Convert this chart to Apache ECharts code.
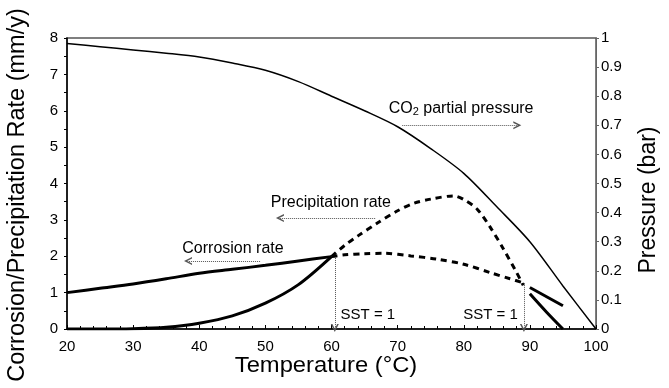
<!DOCTYPE html>
<html><head><meta charset="utf-8">
<script src="https://cdn.jsdelivr.net/npm/echarts@6/dist/echarts.min.js"></script>
<style>html,body{margin:0;padding:0;background:#fff}#c{width:669px;height:388px}</style>
</head><body><div id="c"></div>
<script>
// Temperature (°C) / rate (mm/y) data
const corrSolidT = [20, 25, 30, 35, 40, 45, 50, 55, 60];
const corrSolidV = [1.0, 1.12, 1.24, 1.38, 1.53, 1.64, 1.75, 1.87, 1.99];
const corrDashT = [60, 62, 65, 68, 72, 76, 80, 84, 87, 89];
const corrDashV = [1.99, 2.04, 2.07, 2.08, 2.01, 1.92, 1.78, 1.55, 1.38, 1.27];
const corrEndT = [90, 95];
const corrEndV = [1.14, 0.64];

const precSolidT = [20, 25, 30, 35, 40, 45, 50, 55, 60];
const precSolidV = [0, 0, 0.01, 0.05, 0.16, 0.36, 0.71, 1.22, 1.99];
const precDashT = [60, 62, 64, 67, 70, 72.5, 75, 78.5, 80, 82, 84, 86, 88, 89];
const precDashV = [1.99, 2.3, 2.56, 2.92, 3.25, 3.46, 3.57, 3.66, 3.56, 3.3, 2.8, 2.2, 1.55, 1.2];
const precEndT = [90, 92.5, 95];
const precEndV = [0.97, 0.47, 0.0];

// CO2 partial pressure (bar)
const co2T = [20, 25, 30, 35, 40, 45, 50, 55, 60, 65, 70, 75, 80, 85, 90, 95, 100];
const co2P = [0.981, 0.970, 0.959, 0.948, 0.935, 0.914, 0.889, 0.85, 0.80, 0.75, 0.695, 0.62, 0.535, 0.42, 0.30, 0.148, 0];

const xTicks = [20, 30, 40, 50, 60, 70, 80, 90, 100];

const zip = (a, b) => a.map((v, i) => [v, b[i]]);
const FONT = '"Liberation Sans", Arial, sans-serif';
const chevron = 'path://M0,10L5,0L10,10L8,10L5,4L2,10Z';

const chart = echarts.init(document.getElementById('c'), null, {renderer: 'canvas'});
const thick = {color: '#000', width: 3};
const dash = {color: '#000', width: 3, type: [6, 5]};

chart.setOption({
  animation: false,
  grid: {left: 67, right: 73, top: 38, bottom: 59, show: true, borderColor: '#555', borderWidth: 1.5, backgroundColor: 'transparent'},
  graphic: [
    {type: 'text', x: 326, y: 366, silent: true, scaleX: 1.08,
      style: {text: 'Temperature (°C)', fontFamily: FONT, fontSize: 22, fill: '#000', align: 'center', verticalAlign: 'middle'}},
    {type: 'text', x: 18, y: 195, rotation: Math.PI / 2, silent: true,
      style: {text: 'Corrosion/Precipitation Rate (mm/y)', fontFamily: FONT, fontSize: 23.5, fill: '#000', align: 'center', verticalAlign: 'middle'}},
    {type: 'text', x: 649, y: 200, rotation: Math.PI / 2, silent: true,
      style: {text: 'Pressure (bar)', fontFamily: FONT, fontSize: 23, fill: '#000', align: 'center', verticalAlign: 'middle'}}
  ],
  xAxis: {
    type: 'value', min: 20, max: 100, interval: 10,
    axisLine: {show: true, lineStyle: {color: '#000', width: 1.5}},
    axisTick: {show: true, inside: true, length: 4, lineStyle: {color: '#000'}},
    minorTick: {show: true, splitNumber: 5, length: 3, lineStyle: {color: '#000'}},
    axisLabel: {fontFamily: FONT, fontSize: 15, color: '#000', margin: 10,
      formatter: v => xTicks.includes(v) ? String(v) : ''},
    splitLine: {show: false}
  },
  yAxis: [{
    type: 'value', min: 0, max: 8, interval: 1, position: 'left',
    axisLine: {show: true, lineStyle: {color: '#000', width: 1.5}},
    axisTick: {show: true, length: 3, lineStyle: {color: '#000'}},
    minorTick: {show: true, splitNumber: 2, length: 3, lineStyle: {color: '#000'}},
    axisLabel: {fontFamily: FONT, fontSize: 15, color: '#000', margin: 9},
    splitLine: {show: false}
  }, {
    type: 'value', min: 0, max: 1, interval: 0.1, position: 'right',
    axisLine: {show: true, lineStyle: {color: '#666', width: 1}},
    axisTick: {show: true, length: 3, lineStyle: {color: '#666'}},
    axisLabel: {fontFamily: FONT, fontSize: 15, color: '#000', margin: 5,
      formatter: v => (Math.round(v * 10) / 10).toString()},
    splitLine: {show: false}
  }],
  series: [
    {type: 'line', data: zip(corrSolidT, corrSolidV), smooth: 0.3, symbol: 'none', lineStyle: thick, itemStyle: {color: '#000'},
      markLine: {
        silent: true, symbol: ['none', chevron], symbolSize: [8, 8],
        itemStyle: {color: '#555'},
        lineStyle: {type: 'dotted', color: '#555', width: 1}, label: {show: false},
        data: [
          [{coord: [49.2, 1.87]}, {coord: [38.3, 1.87]}],
          [{coord: [66.6, 3.05]}, {coord: [52.2, 3.05]}],
          [{coord: [70.7, 5.6]}, {coord: [88.1, 5.6]}],
          [{coord: [60.5, 1.95]}, {coord: [60.5, 0.03]}],
          [{coord: [89.1, 1.26]}, {coord: [89.1, 0.03]}]
        ]
      },
      markPoint: {
        silent: true, symbol: 'rect', symbolSize: 1, itemStyle: {color: 'rgba(0,0,0,0)'},
        label: {show: true, position: 'inside', fontFamily: FONT, fontSize: 16, color: '#000',
          rich: {sub: {fontFamily: FONT, fontSize: 11, color: '#000', padding: [8, 0, 0, 0]}}},
        data: [
          {coord: [45.1, 2.2], label: {formatter: 'Corrosion rate'}},
          {coord: [59.9, 3.47], label: {formatter: 'Precipitation rate'}},
          {coord: [79.6, 6.07], label: {formatter: 'CO{sub|2} partial pressure'}},
          {coord: [65.5, 0.39], label: {formatter: 'SST = 1', fontSize: 15}},
          {coord: [84.05, 0.39], label: {formatter: 'SST = 1', fontSize: 15}}
        ]
      }
    },
    {type: 'line', data: zip(corrDashT, corrDashV), smooth: 0.3, symbol: 'none', lineStyle: dash},
    {type: 'line', data: zip(corrEndT, corrEndV), symbol: 'none', lineStyle: thick},
    {type: 'line', data: zip(precSolidT, precSolidV), smooth: 0.3, symbol: 'none', lineStyle: thick},
    {type: 'line', data: zip(precDashT, precDashV), smooth: 0.3, symbol: 'none', lineStyle: dash},
    {type: 'line', data: zip(precEndT, precEndV), smooth: 0.3, symbol: 'none', lineStyle: thick},
    {type: 'line', yAxisIndex: 1, data: zip(co2T, co2P), smooth: 0.3, symbol: 'none', lineStyle: {color: '#000', width: 1.5}}
  ]
});
</script></body></html>
